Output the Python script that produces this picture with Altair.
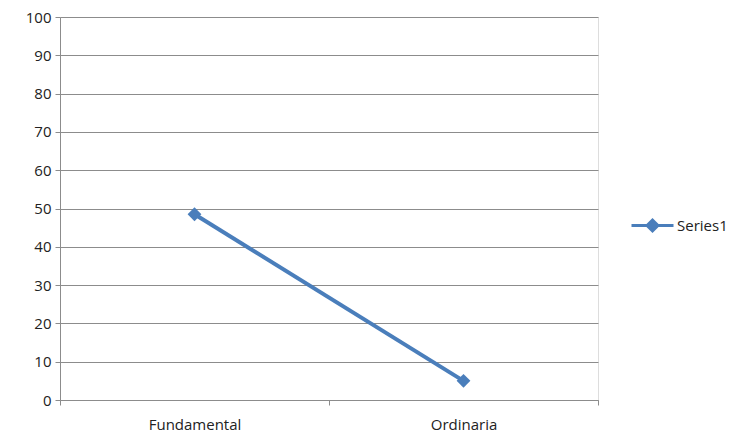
import altair as alt
import pandas as pd

categories = ["Fundamental", "Ordinaria"]
values = [48.5, 5]
series = ["Series1", "Series1"]

df = pd.DataFrame({"cat": categories, "val": values, "series": series})

color = "#4a7ebb"
grid = "#8c8c8c"
font = "Open Sans"
fs = 15

x = alt.X("cat:N", bandPosition=0.5,
          scale=alt.Scale(type="band", paddingInner=0, paddingOuter=0),
          axis=alt.Axis(title=None, labelAngle=0, tickBand="extent", grid=False,
                        domainColor=grid, tickColor=grid, tickSize=5,
                        labelPadding=12, labelFontSize=fs, labelColor="#222",
                        labelFont=font))
y = alt.Y("val:Q", scale=alt.Scale(domain=[0, 100]),
          axis=alt.Axis(title=None, values=list(range(0, 101, 10)), grid=True,
                        gridColor=grid, domainColor=grid, tickColor=grid, tickSize=5,
                        labelPadding=4, labelFontSize=fs, labelColor="#222",
                        labelFont=font))

legend = alt.Legend(title=None, orient="none", legendX=570, legendY=186,
                    symbolType="M-1,0L1,0M-0.26,0L0,-0.26L0.26,0L0,0.26Z",
                    symbolSize=1764, symbolStrokeWidth=3, symbolFillColor=color,
                    symbolStrokeColor=color, labelFontSize=fs, labelColor="#222",
                    labelFont=font, labelOffset=2)

line = alt.Chart(df).mark_line(strokeWidth=4).encode(
    x=x, y=y,
    color=alt.Color("series:N", scale=alt.Scale(range=[color]), legend=legend),
)
pts = alt.Chart(df).mark_point(shape="diamond", filled=True, size=190, opacity=1).encode(
    x=x, y=y,
    color=alt.Color("series:N", scale=alt.Scale(range=[color]), legend=None),
)

chart = (line + pts).properties(
    width=538, height=383,
    autosize=alt.AutoSizeParams(type="none"),
    padding={"left": 52, "top": 9, "right": 130, "bottom": 33},
).configure_view(stroke=None).configure(background="white")

chart.save("out.html", embed_options={"renderer": "svg", "actions": False})
